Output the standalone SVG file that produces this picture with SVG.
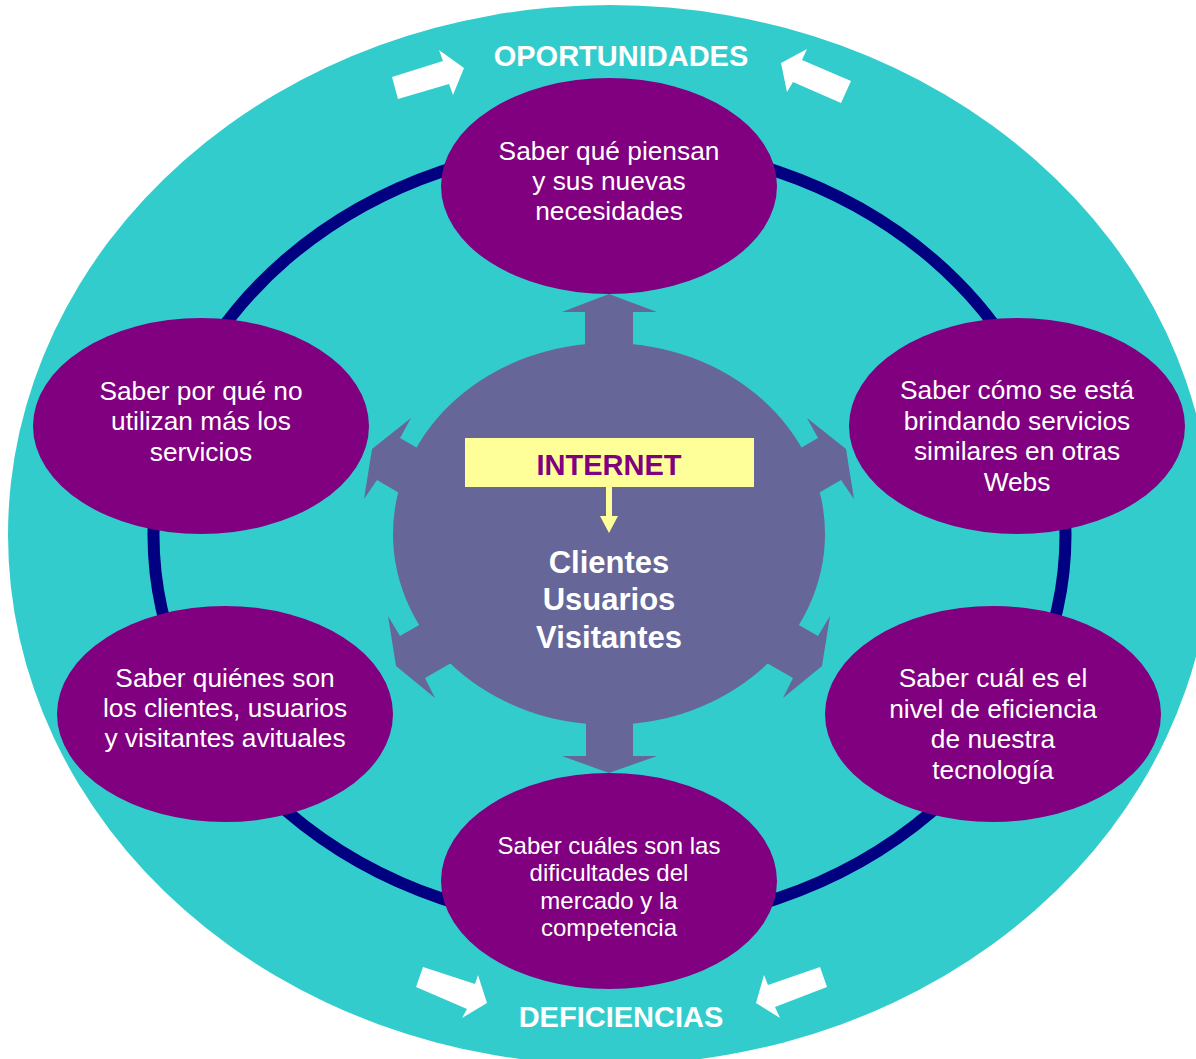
<svg xmlns="http://www.w3.org/2000/svg" width="1196" height="1059" viewBox="0 0 1196 1059">
  <style>
    .field { fill: #33CCCC; }
    .ring { fill: none; stroke: #000080; stroke-width: 12; }
    .hub { fill: #666699; }
    .node { fill: #800080; }
    .label { font-family: "Liberation Sans", Arial, sans-serif; fill: #FFFFFF; text-anchor: middle; }
    .t26 { font-size: 26.3px; }
    .t24 { font-size: 24px; }
    .band { font-size: 29px; font-weight: bold; }
    .hubtext { font-size: 31px; font-weight: bold; }
    .flow { fill: #FFFFFF; }
  </style>

  <!-- background field -->
  <ellipse class="field" cx="610" cy="535" rx="602" ry="530"/>

  <!-- orbit ring -->
  <ellipse class="ring" cx="609.5" cy="535" rx="456" ry="391"/>

  <!-- hub with radial arrows -->
  <g id="connectors">
    <polygon class="hub" points="562,312 609,294 657,312 633,312 633,400 585,400 585,312"/>
    <polygon class="hub" points="562,756 609,773 657,756 633,756 633,680 586,680 586,756"/>
    <polygon class="hub" points="411,418 372,449 364,499 377,480 437,515 461,473 400,438"/>
    <polygon class="hub" points="807,418 846,449 854,499 841,480 781,515 757,473 818,438"/>
    <polygon class="hub" points="388,616 396,666 435,698 425,678 486,643 461,601 400,636"/>
    <polygon class="hub" points="830,616 822,666 783,698 793,678 732,643 757,601 818,636"/>
  </g>

  <g id="hub">
    <ellipse class="hub" cx="609" cy="534" rx="216" ry="191"/>
    <rect x="465" y="438" width="289" height="49" fill="#FFFF99"/>
    <text class="label" x="609" y="475" font-size="29" font-weight="bold" style="fill:#800080">INTERNET</text>
    <polygon fill="#FFFF99" points="606,486 612,486 612,516 618,516 609,533 600,516 606,516"/>
    <text class="label hubtext" x="609" y="573">Clientes</text>
    <text class="label hubtext" x="609" y="610">Usuarios</text>
    <text class="label hubtext" x="609" y="648">Visitantes</text>
  </g>

  <g id="node-top">
    <ellipse class="node" cx="609" cy="186" rx="168" ry="108"/>
    <text class="label t26" x="609" y="160">Saber qué piensan</text>
    <text class="label t26" x="609" y="190">y sus nuevas</text>
    <text class="label t26" x="609" y="220">necesidades</text>
  </g>

  <g id="node-upper-left">
    <ellipse class="node" cx="201" cy="426" rx="168" ry="108"/>
    <text class="label t26" x="201" y="400">Saber por qué no</text>
    <text class="label t26" x="201" y="430">utilizan más los</text>
    <text class="label t26" x="201" y="461">servicios</text>
  </g>

  <g id="node-upper-right">
    <ellipse class="node" cx="1017" cy="426" rx="168" ry="108"/>
    <text class="label t26" x="1017" y="399">Saber cómo se está</text>
    <text class="label t26" x="1017" y="430">brindando servicios</text>
    <text class="label t26" x="1017" y="460">similares en otras</text>
    <text class="label t26" x="1017" y="491">Webs</text>
  </g>

  <g id="node-lower-left">
    <ellipse class="node" cx="225" cy="714" rx="168" ry="108"/>
    <text class="label t26" x="225" y="687">Saber quiénes son</text>
    <text class="label t26" x="225" y="717">los clientes, usuarios</text>
    <text class="label t26" x="225" y="747">y visitantes avituales</text>
  </g>

  <g id="node-lower-right">
    <ellipse class="node" cx="993" cy="714" rx="168" ry="108"/>
    <text class="label t26" x="993" y="687">Saber cuál es el</text>
    <text class="label t26" x="993" y="718">nivel de eficiencia</text>
    <text class="label t26" x="993" y="748">de nuestra</text>
    <text class="label t26" x="993" y="779">tecnología</text>
  </g>

  <g id="node-bottom">
    <ellipse class="node" cx="609" cy="881" rx="168" ry="108"/>
    <text class="label t24" x="609" y="854">Saber cuáles son las</text>
    <text class="label t24" x="609" y="881">dificultades del</text>
    <text class="label t24" x="609" y="909">mercado y la</text>
    <text class="label t24" x="609" y="936">competencia</text>
  </g>

  <!-- band captions with inward arrows -->
  <g id="opportunities">
    <text class="label band" x="621" y="66">OPORTUNIDADES</text>
    <polygon class="flow" points="392,77 443,61 439,50 464,68 453,95 449,84 398,99"/>
    <polygon class="flow" points="851,81 802,60 807,49 781,63 787,92 793,82 841,103"/>
  </g>

  <g id="deficiencies">
    <text class="label band" x="621" y="1027">DEFICIENCIAS</text>
    <polygon class="flow" points="423,967 475,984 478,975 487,1003 462,1018 467,1009 416,987"/>
    <polygon class="flow" points="820,967 768,985 764,975 756,1003 780,1018 775,1007 827,987"/>
  </g>
</svg>
